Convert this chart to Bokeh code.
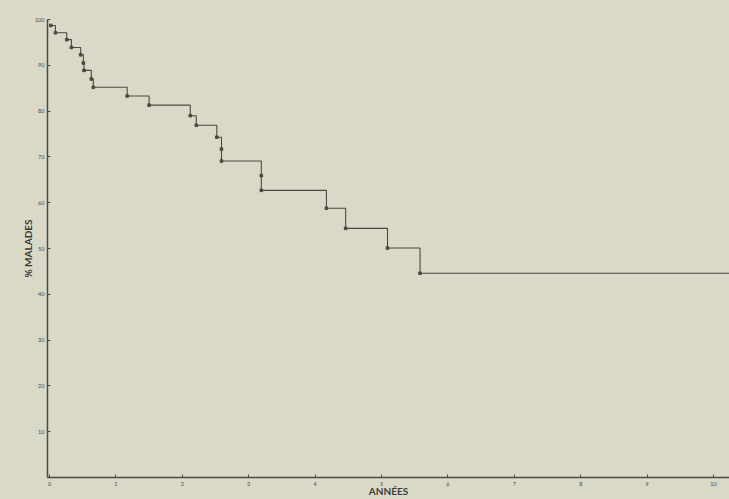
from bokeh.plotting import figure
from bokeh.models import FixedTicker, Range1d
from bokeh.embed import file_html
from bokeh.resources import INLINE

# Kaplan-Meier style curve: time of each drop (years) and % of patients after it
event_years = [0.02, 0.09, 0.26, 0.33, 0.47, 0.51, 0.52, 0.63, 0.66, 1.17, 1.50,
               2.12, 2.21, 2.52, 2.59, 2.59, 3.19, 3.19, 4.17, 4.46, 5.09, 5.58]
survival_pct = [98.7, 97.1, 95.6, 93.9, 92.3, 90.5, 88.9, 87.0, 85.2, 83.3, 81.3,
                79.0, 76.9, 74.3, 71.7, 69.1, 65.9, 62.7, 58.8, 54.4, 50.1, 44.6]
follow_up_end = 10.24
x_ticks = list(range(0, 11))
y_ticks = list(range(10, 101, 10))

BG = "#dad8c7"
INK = "#4a4a44"
FONT = "Lato"

p = figure(width=729, height=499, output_backend="svg", toolbar_location=None,
           x_range=Range1d(-0.03, follow_up_end), y_range=Range1d(0, 100),
           min_border_left=47, min_border_right=0, min_border_top=19, min_border_bottom=22)
p.background_fill_color = BG
p.border_fill_color = BG
p.outline_line_color = None
p.grid.visible = False

xs = event_years + [follow_up_end]
ys = survival_pct + [survival_pct[-1]]
p.step(xs, ys, mode="after", line_color=INK, line_width=1.1)
p.scatter(event_years, survival_pct, marker="square", size=2.6, color=INK)

for ax in (p.xaxis[0], p.yaxis[0]):
    ax.axis_line_color = INK
    ax.axis_line_width = 1.5
    ax.major_tick_line_color = INK
    ax.major_tick_in = 3
    ax.major_tick_out = 0
    ax.minor_tick_line_color = None
    ax.major_label_text_font = FONT
    ax.major_label_text_font_size = "5.5px"
    ax.major_label_text_color = "#4a4a44"
    ax.major_label_standoff = 3
    ax.axis_label_text_font = FONT
    ax.axis_label_text_font_style = "bold"
    ax.axis_label_text_font_size = "10px"
    ax.axis_label_text_color = "#3c3c38"
    ax.axis_label_standoff = 0

p.yaxis[0].axis_label_standoff = -2
p.xaxis[0].major_label_standoff = 4
p.xaxis[0].axis_label_standoff = -4
p.xaxis[0].ticker = FixedTicker(ticks=x_ticks)
p.yaxis[0].ticker = FixedTicker(ticks=y_ticks)
p.xaxis[0].axis_label = "ANNÉES"
p.yaxis[0].axis_label = "% MALADES"

html = file_html(p, INLINE)
html = html.replace("</head>", "<style>html,body{background:%s;}</style></head>" % BG, 1)
open("out.html", "w").write(html)
